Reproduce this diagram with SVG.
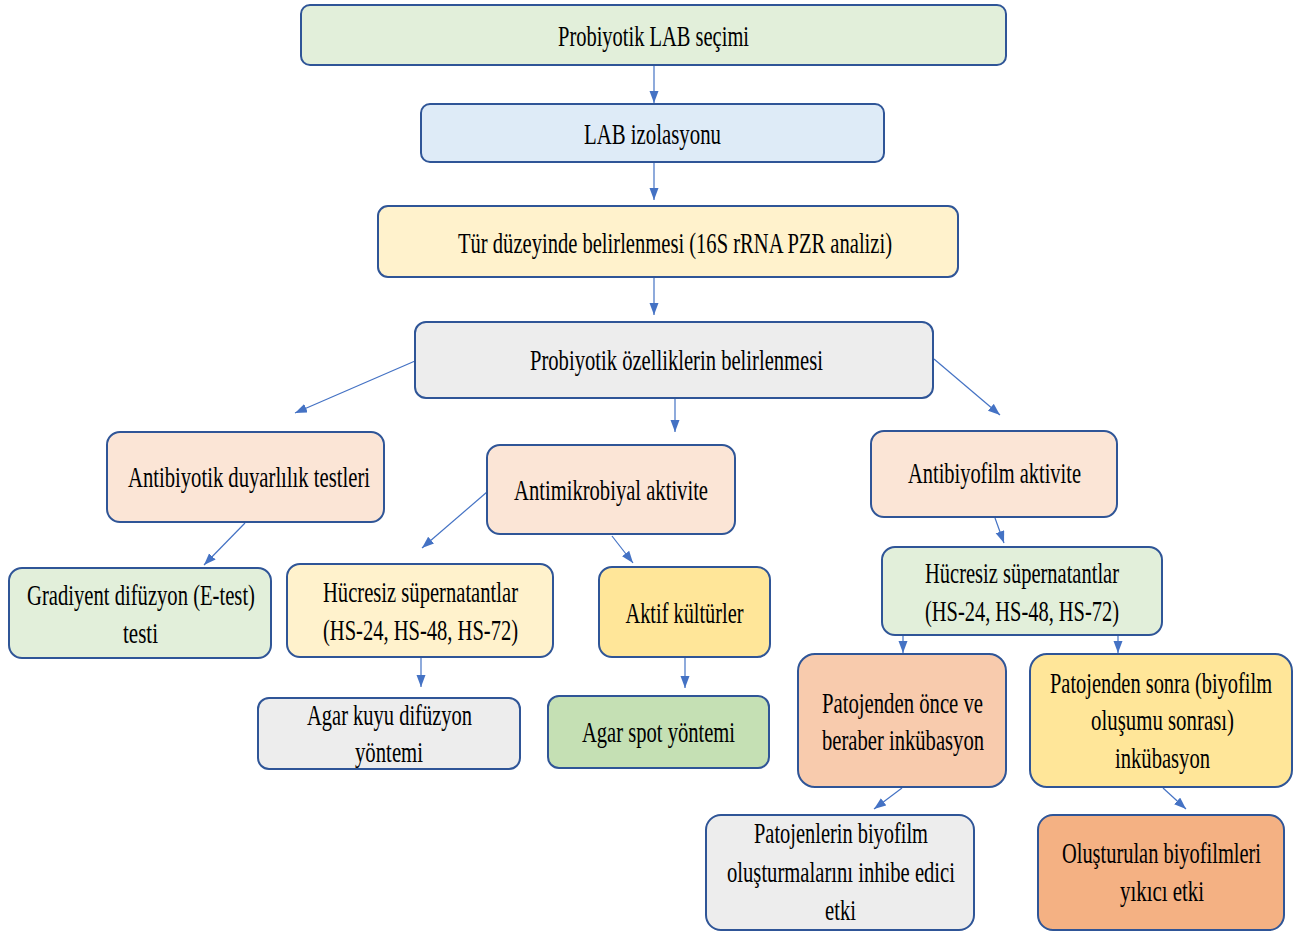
<svg xmlns="http://www.w3.org/2000/svg" width="1310" height="938" viewBox="0 0 1310 938">
<defs>
<style>
.box{stroke:#2f5597;stroke-width:2}
.t{font-family:'Liberation Serif','Times New Roman','DejaVu Serif',serif;font-size:30px;fill:#000;text-anchor:middle}
.c{stroke:#4472c4;stroke-width:1.2;fill:none}
.g{fill:#e2efda}.b{fill:#deebf7}.y{fill:#fff2cc}.gr{fill:#ededed}.p{fill:#fbe5d6}
.o{fill:#ffe699}.sg{fill:#c5e0b4}.pk{fill:#f8cbad}.or{fill:#f4b183}
</style>
<marker id="ah" markerUnits="userSpaceOnUse" markerWidth="13" markerHeight="10" refX="12" refY="4.5" orient="auto">
<path d="M0,0 L12,4.5 L0,9 z" fill="#4472c4"/>
</marker>
</defs>
<rect width="1310" height="938" fill="#fff"/>
<g id="connectors">
<line class="c" x1="654" y1="66" x2="654" y2="103" marker-end="url(#ah)"/>
<line class="c" x1="654" y1="163" x2="654" y2="200" marker-end="url(#ah)"/>
<line class="c" x1="654" y1="278" x2="654" y2="315" marker-end="url(#ah)"/>
<line class="c" x1="415" y1="361" x2="295" y2="413" marker-end="url(#ah)"/>
<line class="c" x1="675" y1="398" x2="675" y2="432" marker-end="url(#ah)"/>
<line class="c" x1="934" y1="359" x2="1000" y2="415" marker-end="url(#ah)"/>
<line class="c" x1="245" y1="523" x2="204" y2="565" marker-end="url(#ah)"/>
<line class="c" x1="487" y1="492" x2="422" y2="548" marker-end="url(#ah)"/>
<line class="c" x1="612" y1="536" x2="633" y2="563" marker-end="url(#ah)"/>
<line class="c" x1="421" y1="658" x2="421" y2="687" marker-end="url(#ah)"/>
<line class="c" x1="685" y1="658" x2="685" y2="688" marker-end="url(#ah)"/>
<line class="c" x1="995" y1="518" x2="1004" y2="543" marker-end="url(#ah)"/>
<line class="c" x1="903" y1="636" x2="903" y2="653" marker-end="url(#ah)"/>
<line class="c" x1="1118" y1="636" x2="1118" y2="653" marker-end="url(#ah)"/>
<line class="c" x1="902" y1="788" x2="874" y2="809" marker-end="url(#ah)"/>
<line class="c" x1="1163" y1="788" x2="1186" y2="809" marker-end="url(#ah)"/>
</g>
<g id="n1"><rect class="box g" x="301" y="5" width="705" height="60" rx="9"/>
<text class="t" x="653.5" y="46" textLength="191" lengthAdjust="spacingAndGlyphs">Probiyotik LAB seçimi</text></g>
<g id="n2"><rect class="box b" x="421" y="104" width="463" height="58" rx="9"/>
<text class="t" x="652.5" y="144" textLength="137" lengthAdjust="spacingAndGlyphs">LAB izolasyonu</text></g>
<g id="n3"><rect class="box y" x="378" y="206" width="580" height="71" rx="10"/>
<text class="t" x="675" y="253" textLength="434" lengthAdjust="spacingAndGlyphs">Tür düzeyinde belirlenmesi (16S rRNA PZR analizi)</text></g>
<g id="n4"><rect class="box gr" x="415" y="322" width="518" height="76" rx="11"/>
<text class="t" x="676.5" y="370" textLength="293" lengthAdjust="spacingAndGlyphs">Probiyotik özelliklerin belirlenmesi</text></g>
<g id="n5"><rect class="box p" x="107" y="432" width="277" height="90" rx="13"/>
<text class="t" x="249" y="487" textLength="242" lengthAdjust="spacingAndGlyphs">Antibiyotik duyarlılık testleri</text></g>
<g id="n6"><rect class="box p" x="487" y="445" width="248" height="89" rx="13"/>
<text class="t" x="611" y="500" textLength="194" lengthAdjust="spacingAndGlyphs">Antimikrobiyal aktivite</text></g>
<g id="n7"><rect class="box p" x="871" y="431" width="246" height="86" rx="13"/>
<text class="t" x="994.5" y="483" textLength="173" lengthAdjust="spacingAndGlyphs">Antibiyofilm aktivite</text></g>
<g id="n8"><rect class="box g" x="9" y="568" width="262" height="90" rx="13"/>
<text class="t" x="141" y="605" textLength="228" lengthAdjust="spacingAndGlyphs">Gradiyent difüzyon (E-test)</text>
<text class="t" x="140.5" y="643" textLength="35" lengthAdjust="spacingAndGlyphs">testi</text></g>
<g id="n9"><rect class="box y" x="287" y="564" width="266" height="93" rx="13"/>
<text class="t" x="420.5" y="602" textLength="195" lengthAdjust="spacingAndGlyphs">Hücresiz süpernatantlar</text>
<text class="t" x="420.5" y="640" textLength="195" lengthAdjust="spacingAndGlyphs">(HS-24, HS-48, HS-72)</text></g>
<g id="n10"><rect class="box o" x="599" y="567" width="171" height="90" rx="13"/>
<text class="t" x="684.5" y="623" textLength="118" lengthAdjust="spacingAndGlyphs">Aktif kültürler</text></g>
<g id="n11"><rect class="box gr" x="258" y="698" width="262" height="71" rx="11"/>
<text class="t" x="389.5" y="725" textLength="165" lengthAdjust="spacingAndGlyphs">Agar kuyu difüzyon</text>
<text class="t" x="389" y="762" textLength="68" lengthAdjust="spacingAndGlyphs">yöntemi</text></g>
<g id="n12"><rect class="box sg" x="548" y="696" width="221" height="72" rx="11"/>
<text class="t" x="658.5" y="742" textLength="153" lengthAdjust="spacingAndGlyphs">Agar spot yöntemi</text></g>
<g id="n13"><rect class="box g" x="882" y="547" width="280" height="88" rx="13"/>
<text class="t" x="1022" y="583" textLength="194" lengthAdjust="spacingAndGlyphs">Hücresiz süpernatantlar</text>
<text class="t" x="1022" y="621" textLength="194" lengthAdjust="spacingAndGlyphs">(HS-24, HS-48, HS-72)</text></g>
<g id="n14"><rect class="box pk" x="798" y="654" width="208" height="133" rx="17"/>
<text class="t" x="902.5" y="713" textLength="161" lengthAdjust="spacingAndGlyphs">Patojenden önce ve</text>
<text class="t" x="903" y="750" textLength="162" lengthAdjust="spacingAndGlyphs">beraber inkübasyon</text></g>
<g id="n15"><rect class="box o" x="1030" y="654" width="262" height="133" rx="17"/>
<text class="t" x="1161" y="693" textLength="222" lengthAdjust="spacingAndGlyphs">Patojenden sonra (biyofilm</text>
<text class="t" x="1162.5" y="730" textLength="143" lengthAdjust="spacingAndGlyphs">oluşumu sonrası)</text>
<text class="t" x="1162.5" y="768" textLength="95" lengthAdjust="spacingAndGlyphs">inkübasyon</text></g>
<g id="n16"><rect class="box gr" x="706" y="815" width="268" height="115" rx="15"/>
<text class="t" x="841" y="843" textLength="174" lengthAdjust="spacingAndGlyphs">Patojenlerin biyofilm</text>
<text class="t" x="841" y="882" textLength="228" lengthAdjust="spacingAndGlyphs">oluşturmalarını inhibe edici</text>
<text class="t" x="840.5" y="920" textLength="31" lengthAdjust="spacingAndGlyphs">etki</text></g>
<g id="n17"><rect class="box or" x="1038" y="815" width="246" height="115" rx="15"/>
<text class="t" x="1161.5" y="863" textLength="199" lengthAdjust="spacingAndGlyphs">Oluşturulan biyofilmleri</text>
<text class="t" x="1162" y="901" textLength="84" lengthAdjust="spacingAndGlyphs">yıkıcı etki</text></g>
</svg>
